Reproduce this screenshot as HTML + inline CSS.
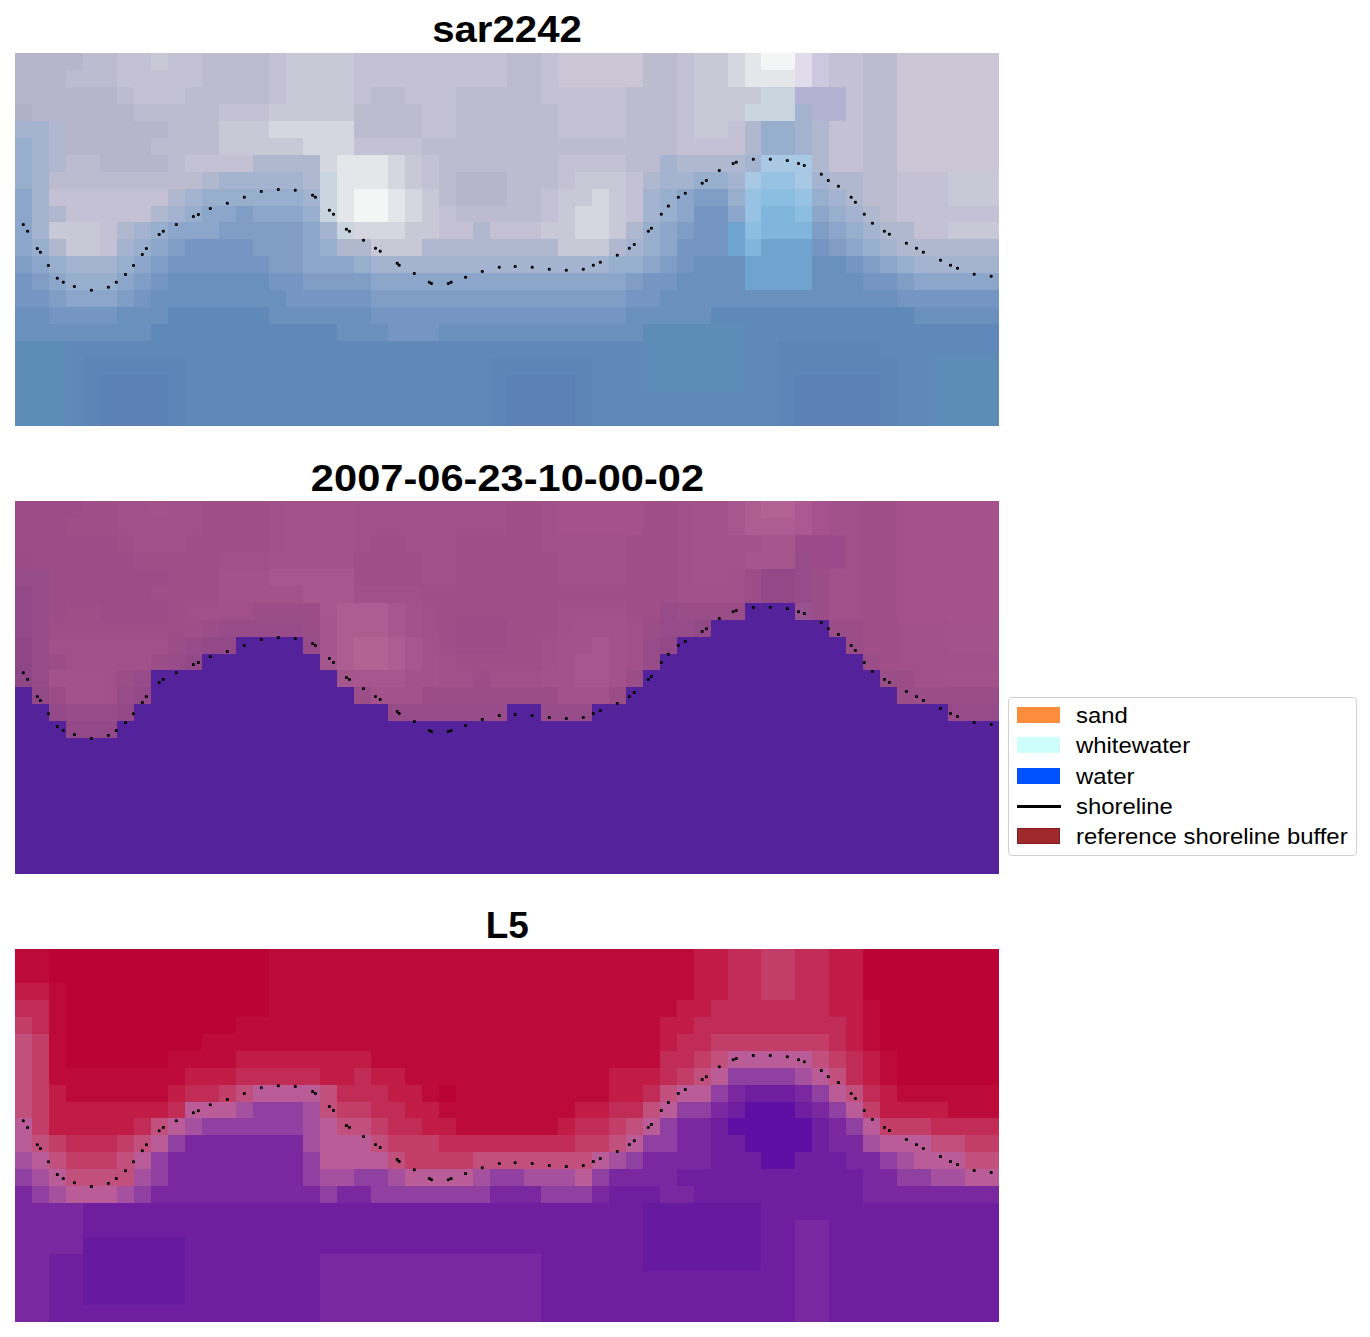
<!DOCTYPE html>
<html><head><meta charset="utf-8"><style>
html,body{margin:0;padding:0;background:#fff;}
body{width:1370px;height:1337px;position:relative;overflow:hidden;font-family:"Liberation Sans",sans-serif;}
.pn{position:absolute;left:15px;display:block;}
.ov{position:absolute;left:0;top:0;}
.ttl{position:absolute;left:15px;width:984px;text-align:center;font-weight:bold;font-size:36.5px;line-height:1;color:#000;white-space:nowrap;}
.lg{position:absolute;left:1008px;top:697px;width:349px;height:159px;border:1.5px solid #d0d0d0;border-radius:4px;box-sizing:border-box;background:#fff;}
.it{position:absolute;left:1076px;font-size:22px;line-height:1;color:#000;white-space:nowrap;}
.sw{position:absolute;left:1017px;width:43px;height:16px;}
</style></head><body>
<svg class="pn" style="top:52.90px" width="984" height="372.8" viewBox="0 0 58 22" preserveAspectRatio="none" shape-rendering="crispEdges"><path fill="#b7b5cc" d="M0 0h4v1h-4zM0 1h3v1h-3zM0 2h6v1h-6zM1 3h6v1h-6zM3 4h6v1h-6zM3 5h5v1h-5zM5 6h4v1h-4zM26 7h3v1h-3zM26 8h3v1h-3z"/><path fill="#bdbbd0" d="M4 0h2v1h-2zM11 0h4v1h-4zM29 0h2v1h-2zM37 0h2v1h-2zM50 0h2v1h-2zM3 1h3v1h-3zM11 1h4v1h-4zM29 1h2v1h-2zM37 1h2v1h-2zM50 1h2v1h-2zM6 2h1v1h-1zM10 2h5v1h-5zM21 2h2v1h-2zM26 2h5v1h-5zM36 2h3v1h-3zM50 2h2v1h-2zM7 3h5v1h-5zM20 3h4v1h-4zM26 3h6v1h-6zM36 3h3v1h-3zM50 3h2v1h-2zM9 4h3v1h-3zM20 4h4v1h-4zM26 4h6v1h-6zM36 4h3v1h-3zM50 4h2v1h-2zM8 5h4v1h-4zM24 5h15v1h-15zM50 5h2v1h-2zM3 6h2v1h-2zM9 6h1v1h-1zM25 6h7v1h-7zM36 6h2v1h-2zM50 6h2v1h-2zM2 7h9v1h-9zM25 7h1v1h-1zM29 7h3v1h-3zM50 7h2v1h-2zM25 8h1v1h-1zM29 8h2v1h-2zM50 8h2v1h-2zM26 9h5v1h-5zM51 9h1v1h-1z"/><path fill="#c3c1d3" d="M6 0h2v1h-2zM9 0h2v1h-2zM15 0h1v1h-1zM20 0h9v1h-9zM31 0h1v1h-1zM39 0h1v1h-1zM48 0h2v1h-2zM6 1h5v1h-5zM15 1h1v1h-1zM20 1h9v1h-9zM31 1h1v1h-1zM39 1h1v1h-1zM48 1h2v1h-2zM7 2h3v1h-3zM15 2h1v1h-1zM20 2h1v1h-1zM23 2h3v1h-3zM31 2h5v1h-5zM39 2h1v1h-1zM49 2h1v1h-1zM12 3h3v1h-3zM24 3h2v1h-2zM32 3h4v1h-4zM39 3h1v1h-1zM49 3h1v1h-1zM24 4h2v1h-2zM32 4h4v1h-4zM39 4h1v1h-1zM42 4h1v1h-1zM48 4h2v1h-2zM20 5h4v1h-4zM39 5h4v1h-4zM48 5h2v1h-2zM10 6h4v1h-4zM24 6h1v1h-1zM32 6h4v1h-4zM48 6h2v1h-2zM24 7h1v1h-1zM32 7h1v1h-1zM36 7h1v1h-1zM52 7h3v1h-3zM2 8h7v1h-7zM31 8h1v1h-1zM36 8h1v1h-1zM52 8h3v1h-3zM3 9h5v1h-5zM25 9h1v1h-1zM31 9h1v1h-1zM36 9h1v1h-1zM52 9h6v1h-6zM5 10h1v1h-1zM25 10h2v1h-2zM28 10h3v1h-3zM53 10h2v1h-2zM5 11h1v1h-1z"/><path fill="#c9c8d7" d="M8 0h1v1h-1zM16 0h4v1h-4zM40 0h2v1h-2zM16 1h4v1h-4zM40 1h2v1h-2zM16 2h4v1h-4zM40 2h4v1h-4zM15 3h5v1h-5zM40 3h3v1h-3zM12 4h3v1h-3zM40 4h2v1h-2zM12 5h5v1h-5zM23 6h1v1h-1zM23 7h1v1h-1zM33 7h3v1h-3zM55 7h3v1h-3zM24 8h1v1h-1zM32 8h2v1h-2zM35 8h1v1h-1zM55 8h3v1h-3zM24 9h1v1h-1zM32 9h1v1h-1zM35 9h1v1h-1zM2 10h3v1h-3zM23 10h2v1h-2zM31 10h2v1h-2zM35 10h1v1h-1zM55 10h3v1h-3zM3 11h2v1h-2zM21 11h3v1h-3zM32 11h3v1h-3z"/><path fill="#cbc6d6" d="M32 0h5v1h-5zM52 0h6v1h-6zM32 1h5v1h-5zM52 1h6v1h-6zM52 2h6v1h-6zM52 3h6v1h-6zM52 4h6v1h-6zM52 5h6v1h-6zM52 6h6v1h-6z"/><path fill="#d6d6e0" d="M42 0h1v1h-1zM42 1h1v1h-1zM15 4h5v1h-5zM17 5h3v1h-3zM18 6h1v1h-1zM22 6h1v1h-1zM22 7h1v1h-1zM23 8h1v1h-1zM34 8h1v1h-1zM23 9h1v1h-1zM33 9h2v1h-2zM20 10h3v1h-3zM33 10h2v1h-2z"/><path fill="#e4e6ea" d="M43 0h1v1h-1zM43 1h3v1h-3zM19 6h3v1h-3zM19 7h3v1h-3zM19 8h1v1h-1zM22 8h1v1h-1zM19 9h1v1h-1zM22 9h1v1h-1z"/><path fill="#f4f5f5" d="M44 0h2v1h-2zM20 8h2v1h-2zM20 9h2v1h-2z"/><path fill="#e0dcec" d="M46 0h1v1h-1zM46 1h1v1h-1z"/><path fill="#ccc8e0" d="M47 0h1v1h-1zM47 1h1v1h-1z"/><path fill="#c8d4de" d="M44 2h2v1h-2zM43 3h3v1h-3zM18 7h1v1h-1zM18 8h1v1h-1zM18 9h1v1h-1zM19 10h1v1h-1z"/><path fill="#b4b2d4" d="M46 2h3v1h-3zM47 3h2v1h-2z"/><path fill="#b0b0c8" d="M0 3h1v1h-1z"/><path fill="#a4b4d0" d="M46 3h1v1h-1zM0 4h2v1h-2zM46 4h1v1h-1zM1 5h1v1h-1zM46 5h1v1h-1zM1 6h1v1h-1zM38 6h1v1h-1zM43 6h1v1h-1zM1 7h1v1h-1zM12 7h5v1h-5zM38 7h2v1h-2zM42 7h1v1h-1zM47 7h1v1h-1zM1 8h1v1h-1zM10 8h1v1h-1zM17 8h1v1h-1zM37 8h1v1h-1zM48 8h1v1h-1zM1 9h1v1h-1zM9 9h1v1h-1zM37 9h1v1h-1zM49 9h1v1h-1zM1 10h1v1h-1zM7 10h1v1h-1zM18 10h1v1h-1zM50 10h1v1h-1zM6 11h1v1h-1zM36 11h1v1h-1zM51 11h1v1h-1zM3 12h3v1h-3zM21 12h14v1h-14zM53 12h5v1h-5z"/><path fill="#b0b8d0" d="M2 4h1v1h-1zM43 4h1v1h-1zM47 4h1v1h-1zM2 5h1v1h-1zM43 5h1v1h-1zM47 5h1v1h-1zM2 6h1v1h-1zM14 6h4v1h-4zM39 6h4v1h-4zM47 6h1v1h-1zM11 7h1v1h-1zM17 7h1v1h-1zM37 7h1v1h-1zM48 7h2v1h-2zM9 8h1v1h-1zM49 8h1v1h-1zM2 9h1v1h-1zM8 9h1v1h-1zM50 9h1v1h-1zM6 10h1v1h-1zM27 10h1v1h-1zM36 10h1v1h-1zM51 10h2v1h-2zM2 11h1v1h-1zM19 11h2v1h-2zM24 11h8v1h-8zM35 11h1v1h-1zM52 11h6v1h-6z"/><path fill="#98aecd" d="M44 4h2v1h-2zM0 5h1v1h-1zM44 5h2v1h-2zM0 6h1v1h-1zM0 7h1v1h-1zM40 7h2v1h-2zM11 8h6v1h-6zM38 8h1v1h-1zM42 8h1v1h-1zM47 8h1v1h-1zM10 9h1v1h-1zM17 9h1v1h-1zM38 9h1v1h-1zM48 9h1v1h-1zM8 10h1v1h-1zM37 10h1v1h-1zM49 10h1v1h-1zM1 11h1v1h-1zM7 11h1v1h-1zM18 11h1v1h-1zM37 11h1v1h-1zM50 11h1v1h-1zM2 12h1v1h-1zM6 12h1v1h-1zM20 12h1v1h-1zM35 12h2v1h-2zM52 12h1v1h-1zM3 13h3v1h-3z"/><path fill="#a8c8e4" d="M44 6h3v1h-3zM43 7h1v1h-1zM46 7h1v1h-1z"/><path fill="#98c2e3" d="M44 7h2v1h-2zM43 8h1v1h-1zM46 8h1v1h-1zM43 9h1v1h-1z"/><path fill="#8ca5ca" d="M0 8h1v1h-1zM39 8h1v1h-1zM0 9h1v1h-1zM11 9h2v1h-2zM14 9h3v1h-3zM39 9h1v1h-1zM42 9h1v1h-1zM47 9h1v1h-1zM0 10h1v1h-1zM9 10h3v1h-3zM17 10h1v1h-1zM38 10h1v1h-1zM48 10h1v1h-1zM0 11h1v1h-1zM8 11h1v1h-1zM17 11h1v1h-1zM38 11h1v1h-1zM49 11h1v1h-1zM1 12h1v1h-1zM7 12h1v1h-1zM17 12h3v1h-3zM37 12h1v1h-1zM51 12h1v1h-1zM2 13h1v1h-1zM6 13h1v1h-1zM21 13h15v1h-15zM53 13h5v1h-5zM3 14h3v1h-3z"/><path fill="#809dc6" d="M40 8h2v1h-2zM13 9h1v1h-1zM12 10h5v1h-5zM39 10h1v1h-1zM47 10h1v1h-1zM9 11h1v1h-1zM14 11h3v1h-3zM48 11h1v1h-1zM0 12h1v1h-1zM8 12h1v1h-1zM15 12h2v1h-2zM38 12h1v1h-1zM50 12h1v1h-1zM1 13h1v1h-1zM7 13h1v1h-1zM17 13h4v1h-4zM36 13h1v1h-1zM52 13h1v1h-1zM2 14h1v1h-1zM6 14h1v1h-1zM21 14h15v1h-15z"/><path fill="#8cbee2" d="M44 8h2v1h-2zM46 9h1v1h-1zM43 10h1v1h-1z"/><path fill="#7596c2" d="M40 9h2v1h-2zM40 10h2v1h-2zM10 11h4v1h-4zM39 11h3v1h-3zM47 11h1v1h-1zM9 12h6v1h-6zM39 12h1v1h-1zM49 12h1v1h-1zM0 13h1v1h-1zM8 13h1v1h-1zM15 13h2v1h-2zM37 13h2v1h-2zM50 13h2v1h-2zM0 14h2v1h-2zM7 14h1v1h-1zM16 14h5v1h-5zM36 14h2v1h-2zM52 14h6v1h-6zM2 15h4v1h-4zM21 15h15v1h-15zM22 16h3v1h-3z"/><path fill="#80b6dc" d="M44 9h2v1h-2zM44 10h3v1h-3zM43 11h1v1h-1z"/><path fill="#6ea4cf" d="M42 10h1v1h-1zM42 11h1v1h-1zM44 11h3v1h-3zM43 12h4v1h-4zM43 13h4v1h-4z"/><path fill="#6a90bd" d="M40 12h3v1h-3zM47 12h2v1h-2zM9 13h6v1h-6zM39 13h4v1h-4zM47 13h3v1h-3zM8 14h8v1h-8zM38 14h14v1h-14zM0 15h2v1h-2zM6 15h3v1h-3zM15 15h6v1h-6zM36 15h5v1h-5zM53 15h5v1h-5zM0 16h8v1h-8zM19 16h3v1h-3zM25 16h12v1h-12z"/><path fill="#5f89b8" d="M9 15h6v1h-6zM41 15h12v1h-12zM8 16h11v1h-11zM43 16h15v1h-15zM3 17h34v1h-34zM43 17h2v1h-2zM51 17h7v1h-7zM3 18h1v1h-1zM10 18h18v1h-18zM34 18h3v1h-3zM43 18h2v1h-2zM52 18h2v1h-2zM3 19h1v1h-1zM10 19h18v1h-18zM34 19h3v1h-3zM43 19h2v1h-2zM52 19h2v1h-2zM3 20h1v1h-1zM10 20h18v1h-18zM34 20h11v1h-11zM52 20h2v1h-2zM3 21h1v1h-1zM10 21h18v1h-18zM34 21h11v1h-11zM52 21h2v1h-2z"/><path fill="#5e8cb9" d="M37 16h6v1h-6zM0 17h3v1h-3zM37 17h6v1h-6zM0 18h3v1h-3zM37 18h6v1h-6zM54 18h4v1h-4zM0 19h3v1h-3zM37 19h6v1h-6zM54 19h4v1h-4zM0 20h3v1h-3zM54 20h4v1h-4zM0 21h3v1h-3zM54 21h4v1h-4z"/><path fill="#5d85b6" d="M45 17h6v1h-6zM4 18h6v1h-6zM28 18h6v1h-6zM45 18h7v1h-7zM4 19h1v1h-1zM9 19h1v1h-1zM28 19h1v1h-1zM33 19h1v1h-1zM45 19h1v1h-1zM51 19h1v1h-1zM4 20h1v1h-1zM9 20h1v1h-1zM28 20h1v1h-1zM33 20h1v1h-1zM45 20h1v1h-1zM51 20h1v1h-1zM4 21h1v1h-1zM9 21h1v1h-1zM28 21h1v1h-1zM33 21h1v1h-1zM45 21h1v1h-1zM51 21h1v1h-1z"/><path fill="#5c81b5" d="M5 19h4v1h-4zM29 19h4v1h-4zM46 19h5v1h-5zM5 20h4v1h-4zM29 20h4v1h-4zM46 20h5v1h-5zM5 21h4v1h-4zM29 21h4v1h-4zM46 21h5v1h-5z"/></svg><svg class="pn" style="top:501.10px" width="984" height="372.8" viewBox="0 0 58 22" preserveAspectRatio="none" shape-rendering="crispEdges"><path fill="#9e4c87" d="M0 0h4v1h-4zM0 1h3v1h-3zM0 2h6v1h-6zM1 3h6v1h-6zM3 4h6v1h-6zM3 5h5v1h-5zM5 6h4v1h-4zM26 7h3v1h-3zM26 8h3v1h-3z"/><path fill="#a04e88" d="M4 0h2v1h-2zM11 0h4v1h-4zM29 0h2v1h-2zM37 0h2v1h-2zM50 0h2v1h-2zM3 1h3v1h-3zM11 1h4v1h-4zM29 1h2v1h-2zM37 1h2v1h-2zM50 1h2v1h-2zM6 2h1v1h-1zM10 2h5v1h-5zM21 2h2v1h-2zM26 2h5v1h-5zM36 2h3v1h-3zM50 2h2v1h-2zM7 3h5v1h-5zM20 3h4v1h-4zM26 3h6v1h-6zM36 3h3v1h-3zM50 3h2v1h-2zM9 4h3v1h-3zM20 4h4v1h-4zM26 4h6v1h-6zM36 4h3v1h-3zM50 4h2v1h-2zM8 5h4v1h-4zM24 5h15v1h-15zM50 5h2v1h-2zM3 6h2v1h-2zM9 6h1v1h-1zM25 6h7v1h-7zM36 6h2v1h-2zM50 6h2v1h-2zM2 7h9v1h-9zM25 7h1v1h-1zM29 7h3v1h-3zM50 7h2v1h-2zM25 8h1v1h-1zM29 8h2v1h-2zM50 8h2v1h-2zM26 9h5v1h-5zM51 9h1v1h-1z"/><path fill="#a25089" d="M6 0h2v1h-2zM9 0h2v1h-2zM15 0h1v1h-1zM20 0h9v1h-9zM31 0h1v1h-1zM39 0h1v1h-1zM48 0h2v1h-2zM6 1h5v1h-5zM15 1h1v1h-1zM20 1h9v1h-9zM31 1h1v1h-1zM39 1h1v1h-1zM48 1h2v1h-2zM7 2h3v1h-3zM15 2h1v1h-1zM20 2h1v1h-1zM23 2h3v1h-3zM31 2h5v1h-5zM39 2h1v1h-1zM49 2h1v1h-1zM12 3h3v1h-3zM24 3h2v1h-2zM32 3h4v1h-4zM39 3h1v1h-1zM49 3h1v1h-1zM24 4h2v1h-2zM32 4h4v1h-4zM39 4h1v1h-1zM42 4h1v1h-1zM48 4h2v1h-2zM20 5h4v1h-4zM39 5h4v1h-4zM48 5h2v1h-2zM10 6h4v1h-4zM24 6h1v1h-1zM32 6h4v1h-4zM48 6h2v1h-2zM24 7h1v1h-1zM32 7h1v1h-1zM36 7h1v1h-1zM52 7h3v1h-3zM2 8h7v1h-7zM31 8h1v1h-1zM36 8h1v1h-1zM52 8h3v1h-3zM3 9h5v1h-5zM25 9h1v1h-1zM31 9h1v1h-1zM36 9h1v1h-1zM52 9h6v1h-6zM5 10h1v1h-1zM25 10h2v1h-2zM28 10h3v1h-3zM53 10h2v1h-2zM5 11h1v1h-1z"/><path fill="#a4528a" d="M8 0h1v1h-1zM16 0h4v1h-4zM40 0h2v1h-2zM16 1h4v1h-4zM40 1h2v1h-2zM16 2h4v1h-4zM40 2h4v1h-4zM15 3h5v1h-5zM40 3h3v1h-3zM12 4h3v1h-3zM40 4h2v1h-2zM12 5h5v1h-5zM23 6h1v1h-1zM23 7h1v1h-1zM33 7h3v1h-3zM55 7h3v1h-3zM24 8h1v1h-1zM32 8h2v1h-2zM35 8h1v1h-1zM55 8h3v1h-3zM24 9h1v1h-1zM32 9h1v1h-1zM35 9h1v1h-1zM2 10h3v1h-3zM23 10h2v1h-2zM31 10h2v1h-2zM35 10h1v1h-1zM55 10h3v1h-3zM3 11h2v1h-2zM21 11h3v1h-3zM32 11h3v1h-3z"/><path fill="#a5528a" d="M32 0h5v1h-5zM52 0h6v1h-6zM32 1h5v1h-5zM52 1h6v1h-6zM52 2h6v1h-6zM52 3h6v1h-6zM52 4h6v1h-6zM52 5h6v1h-6zM52 6h6v1h-6z"/><path fill="#a8578e" d="M42 0h1v1h-1zM42 1h1v1h-1zM15 4h5v1h-5zM17 5h3v1h-3zM18 6h1v1h-1zM22 6h1v1h-1zM22 7h1v1h-1zM23 8h1v1h-1zM34 8h1v1h-1zM23 9h1v1h-1zM33 9h2v1h-2zM20 10h3v1h-3zM33 10h2v1h-2z"/><path fill="#ad5d91" d="M43 0h1v1h-1zM43 1h3v1h-3zM19 6h3v1h-3zM19 7h3v1h-3zM19 8h1v1h-1zM22 8h1v1h-1zM19 9h1v1h-1zM22 9h1v1h-1z"/><path fill="#b36295" d="M44 0h2v1h-2zM20 8h2v1h-2zM20 9h2v1h-2z"/><path fill="#ac5992" d="M46 0h1v1h-1zM46 1h1v1h-1z"/><path fill="#a5528e" d="M47 0h1v1h-1zM47 1h1v1h-1z"/><path fill="#a4568d" d="M44 2h2v1h-2zM43 3h3v1h-3zM18 7h1v1h-1zM18 8h1v1h-1zM18 9h1v1h-1zM19 10h1v1h-1z"/><path fill="#9c4a89" d="M46 2h3v1h-3zM47 3h2v1h-2z"/><path fill="#9b4a85" d="M0 3h1v1h-1z"/><path fill="#974b88" d="M46 3h1v1h-1zM0 4h2v1h-2zM46 4h1v1h-1zM1 5h1v1h-1zM46 5h1v1h-1zM1 6h1v1h-1zM38 6h1v1h-1zM1 7h1v1h-1zM12 7h5v1h-5zM38 7h2v1h-2zM1 8h1v1h-1zM10 8h1v1h-1zM17 8h1v1h-1zM37 8h1v1h-1zM1 9h1v1h-1zM9 9h1v1h-1zM37 9h1v1h-1zM1 10h1v1h-1zM7 10h1v1h-1zM6 11h1v1h-1zM3 12h3v1h-3zM22 12h7v1h-7zM31 12h3v1h-3zM55 12h3v1h-3z"/><path fill="#9b4d88" d="M2 4h1v1h-1zM43 4h1v1h-1zM47 4h1v1h-1zM2 5h1v1h-1zM43 5h1v1h-1zM47 5h1v1h-1zM2 6h1v1h-1zM14 6h4v1h-4zM39 6h4v1h-4zM47 6h1v1h-1zM11 7h1v1h-1zM17 7h1v1h-1zM37 7h1v1h-1zM48 7h2v1h-2zM9 8h1v1h-1zM49 8h1v1h-1zM2 9h1v1h-1zM8 9h1v1h-1zM50 9h1v1h-1zM6 10h1v1h-1zM27 10h1v1h-1zM36 10h1v1h-1zM51 10h2v1h-2zM2 11h1v1h-1zM20 11h1v1h-1zM24 11h8v1h-8zM35 11h1v1h-1zM52 11h6v1h-6z"/><path fill="#934987" d="M44 4h2v1h-2zM0 5h1v1h-1zM44 5h2v1h-2zM0 6h1v1h-1zM0 7h1v1h-1zM40 7h1v1h-1zM11 8h2v1h-2zM38 8h1v1h-1zM10 9h1v1h-1zM1 11h1v1h-1zM7 11h1v1h-1zM2 12h1v1h-1zM6 12h1v1h-1zM3 13h3v1h-3z"/><path fill="#54239b" d="M43 6h3v1h-3zM41 7h7v1h-7zM13 8h4v1h-4zM39 8h10v1h-10zM11 9h7v1h-7zM38 9h12v1h-12zM8 10h11v1h-11zM37 10h14v1h-14zM0 11h1v1h-1zM8 11h12v1h-12zM36 11h16v1h-16zM0 12h2v1h-2zM7 12h15v1h-15zM29 12h2v1h-2zM34 12h21v1h-21zM0 13h3v1h-3zM6 13h52v1h-52zM0 14h58v1h-58zM0 15h58v1h-58zM0 16h58v1h-58zM0 17h58v1h-58zM0 18h58v1h-58zM0 19h58v1h-58zM0 20h58v1h-58zM0 21h58v1h-58z"/><path fill="#98528f" d="M46 6h1v1h-1z"/><path fill="#8e4686" d="M0 8h1v1h-1zM0 9h1v1h-1zM0 10h1v1h-1z"/></svg><svg class="pn" style="top:949.20px" width="984" height="372.8" viewBox="0 0 58 22" preserveAspectRatio="none" shape-rendering="crispEdges"><path fill="#bc0a3a" d="M0 0h2v1h-2zM15 0h25v1h-25zM0 1h2v1h-2zM15 1h25v1h-25zM2 2h1v1h-1zM15 2h25v1h-25zM2 3h1v1h-1zM15 3h24v1h-24zM50 3h1v1h-1zM2 4h1v1h-1zM13 4h25v1h-25zM50 4h1v1h-1zM2 5h1v1h-1zM11 5h27v1h-27zM50 5h1v1h-1zM2 6h1v1h-1zM9 6h4v1h-4zM21 6h17v1h-17zM51 6h1v1h-1zM2 7h8v1h-8zM23 7h12v1h-12zM51 7h1v1h-1zM3 8h6v1h-6zM24 8h1v1h-1zM26 8h9v1h-9zM52 8h6v1h-6zM25 9h8v1h-8zM55 9h3v1h-3zM26 10h6v1h-6z"/><path fill="#ba0434" d="M2 0h13v1h-13zM50 0h8v1h-8zM2 1h13v1h-13zM50 1h8v1h-8zM3 2h12v1h-12zM50 2h8v1h-8zM3 3h12v1h-12zM51 3h7v1h-7zM3 4h10v1h-10zM51 4h7v1h-7zM3 5h8v1h-8zM51 5h7v1h-7zM3 6h6v1h-6zM52 6h6v1h-6zM52 7h6v1h-6zM25 8h1v1h-1z"/><path fill="#c01c46" d="M40 0h2v1h-2zM48 0h2v1h-2zM40 1h2v1h-2zM48 1h2v1h-2zM0 2h2v1h-2zM40 2h2v1h-2zM48 2h2v1h-2zM39 3h2v1h-2zM48 3h2v1h-2zM38 4h2v1h-2zM49 4h1v1h-1zM38 5h1v1h-1zM49 5h1v1h-1zM13 6h8v1h-8zM50 6h1v1h-1zM10 7h3v1h-3zM18 7h2v1h-2zM21 7h2v1h-2zM35 7h3v1h-3zM50 7h1v1h-1zM2 8h1v1h-1zM9 8h1v1h-1zM22 8h2v1h-2zM35 8h2v1h-2zM51 8h1v1h-1zM2 9h7v1h-7zM23 9h2v1h-2zM33 9h2v1h-2zM51 9h4v1h-4zM2 10h5v1h-5zM24 10h2v1h-2zM32 10h1v1h-1z"/><path fill="#c02c56" d="M42 0h2v1h-2zM46 0h2v1h-2zM42 1h2v1h-2zM46 1h2v1h-2zM42 2h2v1h-2zM46 2h2v1h-2zM0 3h2v1h-2zM41 3h7v1h-7zM1 4h1v1h-1zM40 4h9v1h-9zM39 5h2v1h-2zM48 5h1v1h-1zM38 6h2v1h-2zM49 6h1v1h-1zM13 7h5v1h-5zM20 7h1v1h-1zM38 7h1v1h-1zM49 7h1v1h-1zM10 8h2v1h-2zM19 8h3v1h-3zM37 8h1v1h-1zM50 8h1v1h-1zM9 9h1v1h-1zM21 9h2v1h-2zM35 9h2v1h-2zM7 10h1v1h-1zM22 10h2v1h-2zM33 10h2v1h-2zM54 10h4v1h-4zM3 11h3v1h-3zM25 11h8v1h-8z"/><path fill="#c23e68" d="M44 0h2v1h-2zM44 1h2v1h-2zM44 2h2v1h-2zM0 4h1v1h-1zM1 5h1v1h-1zM41 5h7v1h-7zM1 6h1v1h-1zM40 6h1v1h-1zM48 6h1v1h-1zM1 7h1v1h-1zM39 7h1v1h-1zM1 8h1v1h-1zM12 8h1v1h-1zM1 9h1v1h-1zM19 9h2v1h-2zM50 9h1v1h-1zM1 10h1v1h-1zM21 10h1v1h-1zM35 10h1v1h-1zM51 10h3v1h-3zM2 11h1v1h-1zM6 11h1v1h-1zM22 11h3v1h-3zM33 11h2v1h-2zM56 11h2v1h-2zM3 12h3v1h-3zM23 12h4v1h-4z"/><path fill="#c2507c" d="M0 5h1v1h-1zM0 6h1v1h-1zM41 6h1v1h-1zM47 6h1v1h-1zM0 7h1v1h-1zM40 7h1v1h-1zM48 7h1v1h-1zM0 8h1v1h-1zM13 8h1v1h-1zM18 8h1v1h-1zM38 8h1v1h-1zM49 8h1v1h-1zM0 9h1v1h-1zM18 9h1v1h-1zM37 9h1v1h-1zM8 10h1v1h-1zM19 10h2v1h-2zM36 10h1v1h-1zM1 11h1v1h-1zM7 11h1v1h-1zM21 11h1v1h-1zM35 11h1v1h-1zM54 11h2v1h-2zM2 12h1v1h-1zM6 12h1v1h-1zM22 12h1v1h-1zM27 12h7v1h-7zM56 12h2v1h-2zM3 13h4v1h-4z"/><path fill="#ba5c98" d="M42 6h5v1h-5zM41 7h1v1h-1zM47 7h1v1h-1zM14 8h4v1h-4zM39 8h2v1h-2zM48 8h1v1h-1zM10 9h3v1h-3zM38 9h1v1h-1zM49 9h1v1h-1zM0 10h1v1h-1zM9 10h1v1h-1zM18 10h1v1h-1zM37 10h1v1h-1zM50 10h1v1h-1zM0 11h1v1h-1zM8 11h1v1h-1zM18 11h3v1h-3zM36 11h1v1h-1zM51 11h3v1h-3zM1 12h1v1h-1zM7 12h1v1h-1zM18 12h4v1h-4zM34 12h1v1h-1zM53 12h3v1h-3zM2 13h1v1h-1zM23 13h4v1h-4zM33 13h1v1h-1zM56 13h2v1h-2zM3 14h3v1h-3z"/><path fill="#9040a0" d="M42 7h4v1h-4zM41 8h1v1h-1zM47 8h1v1h-1zM14 9h3v1h-3zM39 9h2v1h-2zM48 9h1v1h-1zM11 10h6v1h-6zM38 10h1v1h-1zM49 10h1v1h-1zM9 11h1v1h-1zM37 11h2v1h-2zM8 12h1v1h-1zM17 12h1v1h-1zM36 12h1v1h-1zM51 12h1v1h-1zM0 13h1v1h-1zM8 13h1v1h-1zM17 13h1v1h-1zM20 13h2v1h-2zM28 13h2v1h-2zM34 13h1v1h-1zM52 13h2v1h-2zM1 14h1v1h-1zM7 14h1v1h-1zM18 14h1v1h-1zM21 14h7v1h-7zM31 14h3v1h-3z"/><path fill="#a650a0" d="M46 7h1v1h-1zM13 9h1v1h-1zM17 9h1v1h-1zM10 10h1v1h-1zM17 10h1v1h-1zM17 11h1v1h-1zM50 11h1v1h-1zM0 12h1v1h-1zM35 12h1v1h-1zM52 12h1v1h-1zM1 13h1v1h-1zM7 13h1v1h-1zM18 13h2v1h-2zM22 13h1v1h-1zM27 13h1v1h-1zM30 13h3v1h-3zM54 13h2v1h-2zM2 14h1v1h-1zM6 14h1v1h-1z"/><path fill="#7a28a0" d="M42 8h1v1h-1zM46 8h1v1h-1zM41 9h1v1h-1zM47 9h1v1h-1zM39 10h2v1h-2zM48 10h1v1h-1zM10 11h7v1h-7zM39 11h2v1h-2zM48 11h2v1h-2zM9 12h8v1h-8zM37 12h4v1h-4zM49 12h2v1h-2zM9 13h8v1h-8zM35 13h4v1h-4zM50 13h2v1h-2zM0 14h1v1h-1zM8 14h10v1h-10zM19 14h2v1h-2zM28 14h3v1h-3zM34 14h1v1h-1zM38 14h2v1h-2zM50 14h8v1h-8zM0 15h4v1h-4zM0 16h4v1h-4zM46 16h2v1h-2zM0 17h4v1h-4zM46 17h2v1h-2zM0 18h2v1h-2zM18 18h13v1h-13zM46 18h2v1h-2zM0 19h2v1h-2zM18 19h13v1h-13zM46 19h2v1h-2zM0 20h2v1h-2zM18 20h13v1h-13zM46 20h2v1h-2zM0 21h2v1h-2zM18 21h13v1h-13zM46 21h2v1h-2z"/><path fill="#6e1e9e" d="M43 8h3v1h-3zM42 9h1v1h-1zM46 9h1v1h-1zM41 10h1v1h-1zM47 10h1v1h-1zM41 11h2v1h-2zM47 11h1v1h-1zM41 12h3v1h-3zM46 12h3v1h-3zM39 13h11v1h-11zM35 14h3v1h-3zM40 14h10v1h-10zM4 15h33v1h-33zM44 15h14v1h-14zM4 16h33v1h-33zM44 16h2v1h-2zM48 16h10v1h-10zM10 17h27v1h-27zM44 17h2v1h-2zM48 17h10v1h-10zM2 18h2v1h-2zM10 18h8v1h-8zM31 18h6v1h-6zM44 18h2v1h-2zM48 18h10v1h-10zM2 19h2v1h-2zM10 19h8v1h-8zM31 19h15v1h-15zM48 19h10v1h-10zM2 20h2v1h-2zM10 20h8v1h-8zM31 20h15v1h-15zM48 20h10v1h-10zM2 21h16v1h-16zM31 21h15v1h-15zM48 21h10v1h-10z"/><path fill="#5e0ea2" d="M43 9h3v1h-3zM42 10h5v1h-5zM43 11h4v1h-4zM44 12h2v1h-2z"/><path fill="#661aa0" d="M37 15h7v1h-7zM37 16h7v1h-7zM4 17h6v1h-6zM37 17h7v1h-7zM4 18h6v1h-6zM37 18h7v1h-7zM4 19h6v1h-6zM4 20h6v1h-6z"/></svg><svg class="ov" width="1370" height="1337"><rect x="21.8" y="223.0" width="3" height="3" rx="1.2"/><rect x="26.1" y="229.8" width="3" height="3" rx="1.2"/><rect x="35.8" y="246.9" width="3" height="3" rx="1.2"/><rect x="38.9" y="250.8" width="3" height="3" rx="1.2"/><rect x="46.9" y="264.0" width="3" height="3" rx="1.2"/><rect x="55.8" y="276.8" width="3" height="3" rx="1.2"/><rect x="61.8" y="280.8" width="3" height="3" rx="1.2"/><rect x="72.9" y="284.9" width="3" height="3" rx="1.2"/><rect x="89.9" y="288.8" width="3" height="3" rx="1.2"/><rect x="106.9" y="285.7" width="3" height="3" rx="1.2"/><rect x="114.8" y="280.8" width="3" height="3" rx="1.2"/><rect x="124.0" y="272.9" width="3" height="3" rx="1.2"/><rect x="132.0" y="264.0" width="3" height="3" rx="1.2"/><rect x="140.8" y="252.9" width="3" height="3" rx="1.2"/><rect x="144.9" y="246.9" width="3" height="3" rx="1.2"/><rect x="157.7" y="232.9" width="3" height="3" rx="1.2"/><rect x="161.8" y="229.8" width="3" height="3" rx="1.2"/><rect x="174.8" y="223.0" width="3" height="3" rx="1.2"/><rect x="191.9" y="214.9" width="3" height="3" rx="1.2"/><rect x="196.9" y="212.9" width="3" height="3" rx="1.2"/><rect x="208.8" y="206.9" width="3" height="3" rx="1.2"/><rect x="225.8" y="201.8" width="3" height="3" rx="1.2"/><rect x="242.8" y="195.7" width="3" height="3" rx="1.2"/><rect x="259.8" y="189.9" width="3" height="3" rx="1.2"/><rect x="276.8" y="187.9" width="3" height="3" rx="1.2"/><rect x="293.8" y="188.7" width="3" height="3" rx="1.2"/><rect x="311.1" y="193.8" width="3" height="3" rx="1.2"/><rect x="313.9" y="195.7" width="3" height="3" rx="1.2"/><rect x="327.9" y="208.8" width="3" height="3" rx="1.2"/><rect x="332.0" y="212.7" width="3" height="3" rx="1.2"/><rect x="344.9" y="227.8" width="3" height="3" rx="1.2"/><rect x="347.9" y="229.7" width="3" height="3" rx="1.2"/><rect x="362.0" y="238.7" width="3" height="3" rx="1.2"/><rect x="374.0" y="246.8" width="3" height="3" rx="1.2"/><rect x="378.7" y="249.8" width="3" height="3" rx="1.2"/><rect x="395.7" y="261.8" width="3" height="3" rx="1.2"/><rect x="397.7" y="263.8" width="3" height="3" rx="1.2"/><rect x="412.8" y="271.9" width="3" height="3" rx="1.2"/><rect x="427.8" y="280.8" width="3" height="3" rx="1.2"/><rect x="430.0" y="281.9" width="3" height="3" rx="1.2"/><rect x="446.8" y="281.9" width="3" height="3" rx="1.2"/><rect x="449.6" y="280.8" width="3" height="3" rx="1.2"/><rect x="464.1" y="275.8" width="3" height="3" rx="1.2"/><rect x="480.8" y="269.9" width="3" height="3" rx="1.2"/><rect x="497.8" y="265.7" width="3" height="3" rx="1.2"/><rect x="513.7" y="264.9" width="3" height="3" rx="1.2"/><rect x="530.7" y="265.7" width="3" height="3" rx="1.2"/><rect x="547.8" y="267.7" width="3" height="3" rx="1.2"/><rect x="564.8" y="268.8" width="3" height="3" rx="1.2"/><rect x="581.8" y="267.7" width="3" height="3" rx="1.2"/><rect x="591.8" y="263.8" width="3" height="3" rx="1.2"/><rect x="598.8" y="260.7" width="3" height="3" rx="1.2"/><rect x="615.8" y="253.7" width="3" height="3" rx="1.2"/><rect x="627.8" y="246.8" width="3" height="3" rx="1.2"/><rect x="632.8" y="242.9" width="3" height="3" rx="1.2"/><rect x="646.8" y="229.7" width="3" height="3" rx="1.2"/><rect x="649.9" y="226.7" width="3" height="3" rx="1.2"/><rect x="659.8" y="212.7" width="3" height="3" rx="1.2"/><rect x="666.9" y="204.6" width="3" height="3" rx="1.2"/><rect x="676.8" y="195.7" width="3" height="3" rx="1.2"/><rect x="683.8" y="191.8" width="3" height="3" rx="1.2"/><rect x="700.7" y="181.8" width="3" height="3" rx="1.2"/><rect x="704.9" y="179.0" width="3" height="3" rx="1.2"/><rect x="717.8" y="168.9" width="3" height="3" rx="1.2"/><rect x="731.7" y="162.0" width="3" height="3" rx="1.2"/><rect x="734.8" y="160.8" width="3" height="3" rx="1.2"/><rect x="751.8" y="157.8" width="3" height="3" rx="1.2"/><rect x="768.8" y="157.8" width="3" height="3" rx="1.2"/><rect x="785.8" y="158.9" width="3" height="3" rx="1.2"/><rect x="797.0" y="162.0" width="3" height="3" rx="1.2"/><rect x="802.8" y="163.9" width="3" height="3" rx="1.2"/><rect x="819.8" y="172.8" width="3" height="3" rx="1.2"/><rect x="826.8" y="179.0" width="3" height="3" rx="1.2"/><rect x="836.9" y="184.8" width="3" height="3" rx="1.2"/><rect x="849.7" y="195.7" width="3" height="3" rx="1.2"/><rect x="853.9" y="200.7" width="3" height="3" rx="1.2"/><rect x="862.8" y="212.7" width="3" height="3" rx="1.2"/><rect x="870.9" y="221.7" width="3" height="3" rx="1.2"/><rect x="882.9" y="229.7" width="3" height="3" rx="1.2"/><rect x="887.9" y="232.8" width="3" height="3" rx="1.2"/><rect x="904.9" y="241.7" width="3" height="3" rx="1.2"/><rect x="915.0" y="246.8" width="3" height="3" rx="1.2"/><rect x="921.9" y="250.7" width="3" height="3" rx="1.2"/><rect x="939.0" y="258.8" width="3" height="3" rx="1.2"/><rect x="949.0" y="263.8" width="3" height="3" rx="1.2"/><rect x="956.0" y="266.8" width="3" height="3" rx="1.2"/><rect x="972.7" y="272.7" width="3" height="3" rx="1.2"/><rect x="989.7" y="274.7" width="3" height="3" rx="1.2"/><rect x="21.8" y="671.2" width="3" height="3" rx="1.2"/><rect x="26.1" y="678.0" width="3" height="3" rx="1.2"/><rect x="35.8" y="695.1" width="3" height="3" rx="1.2"/><rect x="38.9" y="699.0" width="3" height="3" rx="1.2"/><rect x="46.9" y="712.2" width="3" height="3" rx="1.2"/><rect x="55.8" y="725.0" width="3" height="3" rx="1.2"/><rect x="61.8" y="729.0" width="3" height="3" rx="1.2"/><rect x="72.9" y="733.1" width="3" height="3" rx="1.2"/><rect x="89.9" y="737.0" width="3" height="3" rx="1.2"/><rect x="106.9" y="733.9" width="3" height="3" rx="1.2"/><rect x="114.8" y="729.0" width="3" height="3" rx="1.2"/><rect x="124.0" y="721.1" width="3" height="3" rx="1.2"/><rect x="132.0" y="712.2" width="3" height="3" rx="1.2"/><rect x="140.8" y="701.1" width="3" height="3" rx="1.2"/><rect x="144.9" y="695.1" width="3" height="3" rx="1.2"/><rect x="157.7" y="681.1" width="3" height="3" rx="1.2"/><rect x="161.8" y="678.0" width="3" height="3" rx="1.2"/><rect x="174.8" y="671.2" width="3" height="3" rx="1.2"/><rect x="191.9" y="663.1" width="3" height="3" rx="1.2"/><rect x="196.9" y="661.1" width="3" height="3" rx="1.2"/><rect x="208.8" y="655.1" width="3" height="3" rx="1.2"/><rect x="225.8" y="650.0" width="3" height="3" rx="1.2"/><rect x="242.8" y="643.9" width="3" height="3" rx="1.2"/><rect x="259.8" y="638.1" width="3" height="3" rx="1.2"/><rect x="276.8" y="636.1" width="3" height="3" rx="1.2"/><rect x="293.8" y="636.9" width="3" height="3" rx="1.2"/><rect x="311.1" y="642.0" width="3" height="3" rx="1.2"/><rect x="313.9" y="643.9" width="3" height="3" rx="1.2"/><rect x="327.9" y="657.0" width="3" height="3" rx="1.2"/><rect x="332.0" y="660.9" width="3" height="3" rx="1.2"/><rect x="344.9" y="676.0" width="3" height="3" rx="1.2"/><rect x="347.9" y="677.9" width="3" height="3" rx="1.2"/><rect x="362.0" y="686.9" width="3" height="3" rx="1.2"/><rect x="374.0" y="695.0" width="3" height="3" rx="1.2"/><rect x="378.7" y="698.0" width="3" height="3" rx="1.2"/><rect x="395.7" y="710.0" width="3" height="3" rx="1.2"/><rect x="397.7" y="712.0" width="3" height="3" rx="1.2"/><rect x="412.8" y="720.1" width="3" height="3" rx="1.2"/><rect x="427.8" y="729.0" width="3" height="3" rx="1.2"/><rect x="430.0" y="730.1" width="3" height="3" rx="1.2"/><rect x="446.8" y="730.1" width="3" height="3" rx="1.2"/><rect x="449.6" y="729.0" width="3" height="3" rx="1.2"/><rect x="464.1" y="724.0" width="3" height="3" rx="1.2"/><rect x="480.8" y="718.1" width="3" height="3" rx="1.2"/><rect x="497.8" y="713.9" width="3" height="3" rx="1.2"/><rect x="513.7" y="713.1" width="3" height="3" rx="1.2"/><rect x="530.7" y="713.9" width="3" height="3" rx="1.2"/><rect x="547.8" y="715.9" width="3" height="3" rx="1.2"/><rect x="564.8" y="717.0" width="3" height="3" rx="1.2"/><rect x="581.8" y="715.9" width="3" height="3" rx="1.2"/><rect x="591.8" y="712.0" width="3" height="3" rx="1.2"/><rect x="598.8" y="708.9" width="3" height="3" rx="1.2"/><rect x="615.8" y="701.9" width="3" height="3" rx="1.2"/><rect x="627.8" y="695.0" width="3" height="3" rx="1.2"/><rect x="632.8" y="691.1" width="3" height="3" rx="1.2"/><rect x="646.8" y="677.9" width="3" height="3" rx="1.2"/><rect x="649.9" y="674.9" width="3" height="3" rx="1.2"/><rect x="659.8" y="660.9" width="3" height="3" rx="1.2"/><rect x="666.9" y="652.8" width="3" height="3" rx="1.2"/><rect x="676.8" y="643.9" width="3" height="3" rx="1.2"/><rect x="683.8" y="640.0" width="3" height="3" rx="1.2"/><rect x="700.7" y="630.0" width="3" height="3" rx="1.2"/><rect x="704.9" y="627.2" width="3" height="3" rx="1.2"/><rect x="717.8" y="617.1" width="3" height="3" rx="1.2"/><rect x="731.7" y="610.2" width="3" height="3" rx="1.2"/><rect x="734.8" y="609.0" width="3" height="3" rx="1.2"/><rect x="751.8" y="606.0" width="3" height="3" rx="1.2"/><rect x="768.8" y="606.0" width="3" height="3" rx="1.2"/><rect x="785.8" y="607.1" width="3" height="3" rx="1.2"/><rect x="797.0" y="610.2" width="3" height="3" rx="1.2"/><rect x="802.8" y="612.1" width="3" height="3" rx="1.2"/><rect x="819.8" y="621.0" width="3" height="3" rx="1.2"/><rect x="826.8" y="627.2" width="3" height="3" rx="1.2"/><rect x="836.9" y="633.0" width="3" height="3" rx="1.2"/><rect x="849.7" y="643.9" width="3" height="3" rx="1.2"/><rect x="853.9" y="648.9" width="3" height="3" rx="1.2"/><rect x="862.8" y="660.9" width="3" height="3" rx="1.2"/><rect x="870.9" y="669.9" width="3" height="3" rx="1.2"/><rect x="882.9" y="677.9" width="3" height="3" rx="1.2"/><rect x="887.9" y="681.0" width="3" height="3" rx="1.2"/><rect x="904.9" y="689.9" width="3" height="3" rx="1.2"/><rect x="915.0" y="695.0" width="3" height="3" rx="1.2"/><rect x="921.9" y="698.9" width="3" height="3" rx="1.2"/><rect x="939.0" y="707.0" width="3" height="3" rx="1.2"/><rect x="949.0" y="712.0" width="3" height="3" rx="1.2"/><rect x="956.0" y="715.0" width="3" height="3" rx="1.2"/><rect x="972.7" y="720.9" width="3" height="3" rx="1.2"/><rect x="989.7" y="722.9" width="3" height="3" rx="1.2"/><rect x="21.8" y="1119.3" width="3" height="3" rx="1.2"/><rect x="26.1" y="1126.1" width="3" height="3" rx="1.2"/><rect x="35.8" y="1143.2" width="3" height="3" rx="1.2"/><rect x="38.9" y="1147.1" width="3" height="3" rx="1.2"/><rect x="46.9" y="1160.3" width="3" height="3" rx="1.2"/><rect x="55.8" y="1173.1" width="3" height="3" rx="1.2"/><rect x="61.8" y="1177.1" width="3" height="3" rx="1.2"/><rect x="72.9" y="1181.2" width="3" height="3" rx="1.2"/><rect x="89.9" y="1185.1" width="3" height="3" rx="1.2"/><rect x="106.9" y="1182.0" width="3" height="3" rx="1.2"/><rect x="114.8" y="1177.1" width="3" height="3" rx="1.2"/><rect x="124.0" y="1169.2" width="3" height="3" rx="1.2"/><rect x="132.0" y="1160.3" width="3" height="3" rx="1.2"/><rect x="140.8" y="1149.2" width="3" height="3" rx="1.2"/><rect x="144.9" y="1143.2" width="3" height="3" rx="1.2"/><rect x="157.7" y="1129.2" width="3" height="3" rx="1.2"/><rect x="161.8" y="1126.1" width="3" height="3" rx="1.2"/><rect x="174.8" y="1119.3" width="3" height="3" rx="1.2"/><rect x="191.9" y="1111.2" width="3" height="3" rx="1.2"/><rect x="196.9" y="1109.2" width="3" height="3" rx="1.2"/><rect x="208.8" y="1103.2" width="3" height="3" rx="1.2"/><rect x="225.8" y="1098.1" width="3" height="3" rx="1.2"/><rect x="242.8" y="1092.0" width="3" height="3" rx="1.2"/><rect x="259.8" y="1086.2" width="3" height="3" rx="1.2"/><rect x="276.8" y="1084.2" width="3" height="3" rx="1.2"/><rect x="293.8" y="1085.0" width="3" height="3" rx="1.2"/><rect x="311.1" y="1090.1" width="3" height="3" rx="1.2"/><rect x="313.9" y="1092.0" width="3" height="3" rx="1.2"/><rect x="327.9" y="1105.1" width="3" height="3" rx="1.2"/><rect x="332.0" y="1109.0" width="3" height="3" rx="1.2"/><rect x="344.9" y="1124.1" width="3" height="3" rx="1.2"/><rect x="347.9" y="1126.0" width="3" height="3" rx="1.2"/><rect x="362.0" y="1135.0" width="3" height="3" rx="1.2"/><rect x="374.0" y="1143.1" width="3" height="3" rx="1.2"/><rect x="378.7" y="1146.1" width="3" height="3" rx="1.2"/><rect x="395.7" y="1158.1" width="3" height="3" rx="1.2"/><rect x="397.7" y="1160.1" width="3" height="3" rx="1.2"/><rect x="412.8" y="1168.2" width="3" height="3" rx="1.2"/><rect x="427.8" y="1177.1" width="3" height="3" rx="1.2"/><rect x="430.0" y="1178.2" width="3" height="3" rx="1.2"/><rect x="446.8" y="1178.2" width="3" height="3" rx="1.2"/><rect x="449.6" y="1177.1" width="3" height="3" rx="1.2"/><rect x="464.1" y="1172.1" width="3" height="3" rx="1.2"/><rect x="480.8" y="1166.2" width="3" height="3" rx="1.2"/><rect x="497.8" y="1162.0" width="3" height="3" rx="1.2"/><rect x="513.7" y="1161.2" width="3" height="3" rx="1.2"/><rect x="530.7" y="1162.0" width="3" height="3" rx="1.2"/><rect x="547.8" y="1164.0" width="3" height="3" rx="1.2"/><rect x="564.8" y="1165.1" width="3" height="3" rx="1.2"/><rect x="581.8" y="1164.0" width="3" height="3" rx="1.2"/><rect x="591.8" y="1160.1" width="3" height="3" rx="1.2"/><rect x="598.8" y="1157.0" width="3" height="3" rx="1.2"/><rect x="615.8" y="1150.0" width="3" height="3" rx="1.2"/><rect x="627.8" y="1143.1" width="3" height="3" rx="1.2"/><rect x="632.8" y="1139.2" width="3" height="3" rx="1.2"/><rect x="646.8" y="1126.0" width="3" height="3" rx="1.2"/><rect x="649.9" y="1123.0" width="3" height="3" rx="1.2"/><rect x="659.8" y="1109.0" width="3" height="3" rx="1.2"/><rect x="666.9" y="1100.9" width="3" height="3" rx="1.2"/><rect x="676.8" y="1092.0" width="3" height="3" rx="1.2"/><rect x="683.8" y="1088.1" width="3" height="3" rx="1.2"/><rect x="700.7" y="1078.1" width="3" height="3" rx="1.2"/><rect x="704.9" y="1075.3" width="3" height="3" rx="1.2"/><rect x="717.8" y="1065.2" width="3" height="3" rx="1.2"/><rect x="731.7" y="1058.3" width="3" height="3" rx="1.2"/><rect x="734.8" y="1057.1" width="3" height="3" rx="1.2"/><rect x="751.8" y="1054.1" width="3" height="3" rx="1.2"/><rect x="768.8" y="1054.1" width="3" height="3" rx="1.2"/><rect x="785.8" y="1055.2" width="3" height="3" rx="1.2"/><rect x="797.0" y="1058.3" width="3" height="3" rx="1.2"/><rect x="802.8" y="1060.2" width="3" height="3" rx="1.2"/><rect x="819.8" y="1069.1" width="3" height="3" rx="1.2"/><rect x="826.8" y="1075.3" width="3" height="3" rx="1.2"/><rect x="836.9" y="1081.1" width="3" height="3" rx="1.2"/><rect x="849.7" y="1092.0" width="3" height="3" rx="1.2"/><rect x="853.9" y="1097.0" width="3" height="3" rx="1.2"/><rect x="862.8" y="1109.0" width="3" height="3" rx="1.2"/><rect x="870.9" y="1118.0" width="3" height="3" rx="1.2"/><rect x="882.9" y="1126.0" width="3" height="3" rx="1.2"/><rect x="887.9" y="1129.1" width="3" height="3" rx="1.2"/><rect x="904.9" y="1138.0" width="3" height="3" rx="1.2"/><rect x="915.0" y="1143.1" width="3" height="3" rx="1.2"/><rect x="921.9" y="1147.0" width="3" height="3" rx="1.2"/><rect x="939.0" y="1155.1" width="3" height="3" rx="1.2"/><rect x="949.0" y="1160.1" width="3" height="3" rx="1.2"/><rect x="956.0" y="1163.1" width="3" height="3" rx="1.2"/><rect x="972.7" y="1169.0" width="3" height="3" rx="1.2"/><rect x="989.7" y="1171.0" width="3" height="3" rx="1.2"/></svg><div class="ttl" style="top:12.0px"><span style="display:inline-block;transform:scaleX(1.100)">sar2242</span></div><div class="ttl" style="top:460.7px"><span style="display:inline-block;transform:scaleX(1.140)">2007-06-23-10-00-02</span></div><div class="ttl" style="top:908.1px"><span style="display:inline-block;transform:scaleX(1.010)">L5</span></div><div class="lg"></div><div class="sw" style="top:707px;height:16px;background:#fd8d3c"></div><div class="it" style="top:705.1px"><span style="display:inline-block;transform:scaleX(1.085);transform-origin:0 50%">sand</span></div><div class="sw" style="top:737px;height:16px;background:#ccfffb"></div><div class="it" style="top:734.9px"><span style="display:inline-block;transform:scaleX(1.085);transform-origin:0 50%">whitewater</span></div><div class="sw" style="top:768px;height:16px;background:#0052ff"></div><div class="it" style="top:765.8px"><span style="display:inline-block;transform:scaleX(1.085);transform-origin:0 50%">water</span></div><div class="sw" style="top:805px;height:3px;width:44px;background:#000"></div><div class="it" style="top:795.7px"><span style="display:inline-block;transform:scaleX(1.085);transform-origin:0 50%">shoreline</span></div><div class="sw" style="top:828px;height:16px;background:#9e2a2e;box-shadow:inset 0 0 0 1px #86191c"></div><div class="it" style="top:826.0px"><span style="display:inline-block;transform:scaleX(1.085);transform-origin:0 50%">reference shoreline buffer</span></div></body></html>
